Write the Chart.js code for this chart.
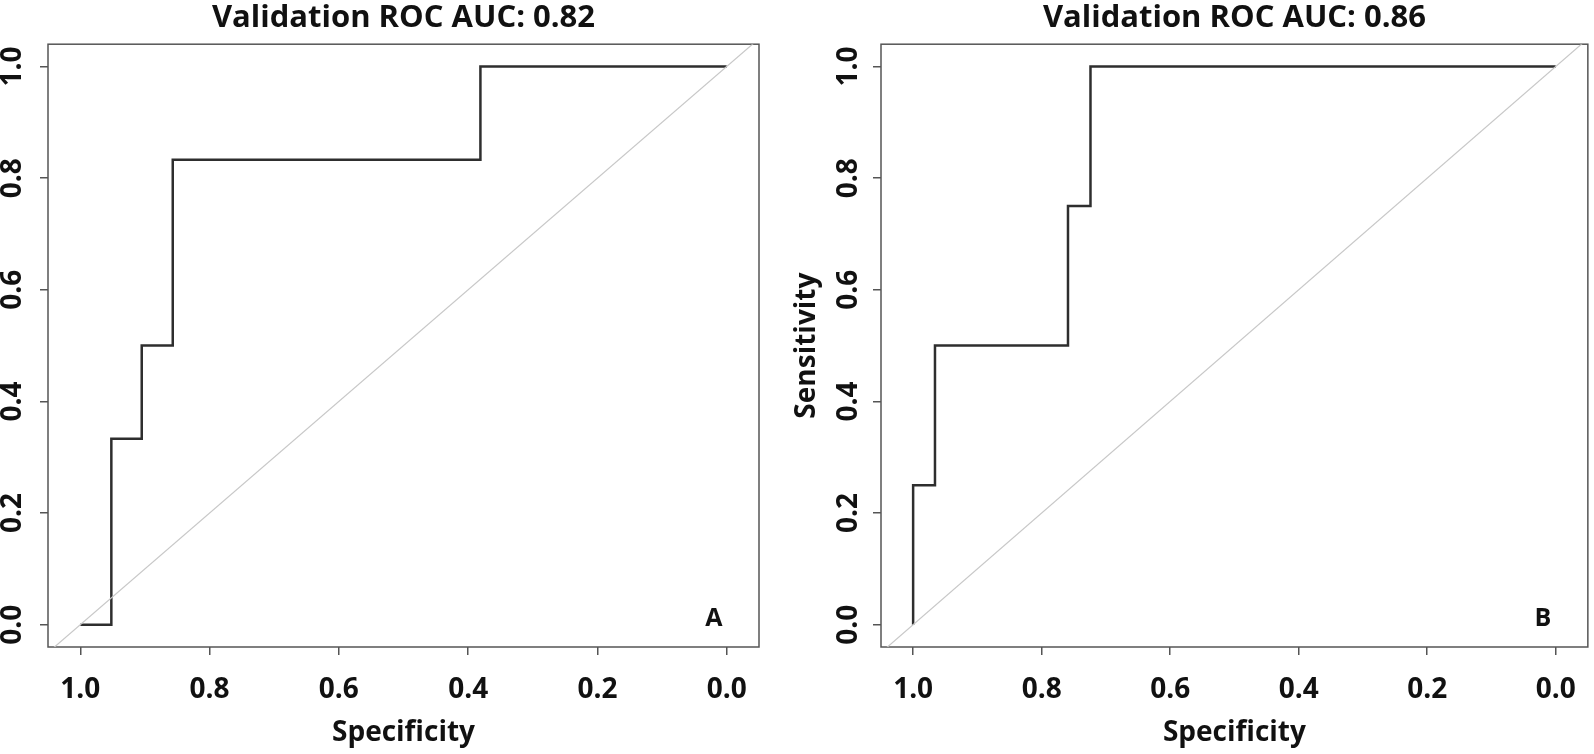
<!DOCTYPE html>
<html>
<head>
<meta charset="utf-8">
<title>Validation ROC curves</title>
<script src="https://cdn.jsdelivr.net/npm/chart.js@4.4.1/dist/chart.umd.min.js"></script>
<style>
  html, body { margin: 0; padding: 0; background: #fff; }
  #page { position: relative; width: 1594px; height: 754px; }
  .panel { position: absolute; top: 0; height: 754px; }
  #panelA { left: 0; width: 790px; }
  #panelB { left: 780px; width: 814px; }
</style>
</head>
<body>
<div id="page">
  <div class="panel" id="panelA"><canvas id="rocA"></canvas></div>
  <div class="panel" id="panelB"><canvas id="rocB"></canvas></div>
</div>
<script>
// ---------- Data ----------
const specTicks = [1.0, 0.8, 0.6, 0.4, 0.2, 0.0];
const sensTicks = [0.0, 0.2, 0.4, 0.6, 0.8, 1.0];

// Panel A: corners of the stepped ROC curve (specificity, sensitivity)
const specA = [1.0, 0.952, 0.952, 0.905, 0.905, 0.857, 0.857, 0.381, 0.381, 0.0];
const sensA = [0.0, 0.0, 0.333, 0.333, 0.5, 0.5, 0.833, 0.833, 1.0, 1.0];
const aucA = 0.82;

// Panel B
const specB = [1.0, 1.0, 0.966, 0.966, 0.759, 0.759, 0.724, 0.724, 0.0];
const sensB = [0.0, 0.25, 0.25, 0.5, 0.5, 0.75, 0.75, 1.0, 1.0];
const aucB = 0.86;

// chance line (sensitivity = 1 - specificity), runs off the frame like abline()
const diagSpec = [1.1, -0.1];
const diagSens = [-0.1, 1.1];

const FONT = '"Open Sans", "DejaVu Sans", sans-serif';
const INK = '#111';
const AXIS = '#555';

// ---------- Frame + panel letter ----------
const frameAndTag = {
  id: 'frameAndTag',
  beforeDatasetsDraw(chart) {
    const { ctx, chartArea: a } = chart;
    ctx.save();
    ctx.strokeStyle = AXIS;
    ctx.lineWidth = 1.5;
    ctx.strokeRect(a.left, a.top, a.right - a.left, a.bottom - a.top);
    ctx.restore();
  },
  afterDatasetsDraw(chart, args, opts) {
    if (!opts.tag) return;
    const { ctx, scales } = chart;
    ctx.save();
    ctx.fillStyle = INK;
    ctx.font = 'bold 25px ' + FONT;
    ctx.textAlign = 'center';
    ctx.textBaseline = 'middle';
    ctx.fillText(opts.tag, scales.x.getPixelForValue(opts.at[0]), scales.y.getPixelForValue(opts.at[1]));
    ctx.restore();
  }
};

function points(xs, ys) {
  return xs.map((x, i) => ({ x, y: ys[i] }));
}

function rocChart(id, spec, sens, opts) {
  return new Chart(document.getElementById(id), {
    type: 'line',
    data: {
      datasets: [
        { data: points(diagSpec, diagSens), borderColor: '#c8c8c8', borderWidth: 1.2, pointRadius: 0 },
        { data: points(spec, sens), borderColor: '#2e2e2e', borderWidth: 2.5, pointRadius: 0, borderJoinStyle: 'miter' }
      ]
    },
    options: {
      responsive: true,
      maintainAspectRatio: false,
      animation: false,
      layout: { padding: { left: 0, right: opts.padRight, top: 0, bottom: 0 } },
      plugins: {
        legend: { display: false },
        tooltip: { enabled: false },
        title: {
          display: true,
          text: 'Validation ROC AUC: ' + opts.auc.toFixed(2),
          fullSize: false,
          color: INK,
          font: { family: FONT, size: 31, weight: 'bold' },
          padding: { top: 0, bottom: 7 }
        },
        frameAndTag: { tag: opts.tag, at: [0.02, 0.01] }
      },
      scales: {
        x: {
          type: 'linear',
          reverse: true,
          min: -0.05,
          max: 1.05,
          afterBuildTicks: s => { s.ticks = specTicks.map(v => ({ value: v })); },
          afterFit: s => { s.height = 107; },
          ticks: {
            color: INK,
            padding: 18,
            maxRotation: 0,
            font: { family: FONT, size: 28, weight: 'bold' },
            callback: v => v.toFixed(1)
          },
          grid: { drawOnChartArea: false, tickLength: 8, color: AXIS, lineWidth: 1.5 },
          border: { display: false },
          title: {
            display: true,
            text: 'Specificity',
            color: INK,
            font: { family: FONT, size: 28, weight: 'bold' },
            padding: { top: 0, bottom: 4 }
          }
        },
        y: {
          type: 'linear',
          min: -0.04,
          max: 1.04,
          afterBuildTicks: s => { s.ticks = sensTicks.map(v => ({ value: v })); },
          afterFit: s => { s.width = opts.yWidth; },
          ticks: {
            color: INK,
            padding: opts.yPad,
            minRotation: 90,
            maxRotation: 90,
            crossAlign: 'center',
            font: { family: FONT, size: 28, weight: 'bold' },
            callback: v => v.toFixed(1)
          },
          grid: { drawOnChartArea: false, tickLength: 8, color: AXIS, lineWidth: 1.5 },
          border: { display: false },
          title: {
            display: opts.yTitle,
            text: 'Sensitivity',
            color: INK,
            font: { family: FONT, size: 28, weight: 'bold' },
            padding: { top: 10, bottom: 0 }
          }
        }
      }
    },
    plugins: [frameAndTag]
  });
}

rocChart('rocA', specA, sensA, { auc: aucA, tag: 'A', padRight: 31, yWidth: 48, yPad: 7, yTitle: false });
rocChart('rocB', specB, sensB, { auc: aucB, tag: 'B', padRight: 2, yWidth: 101, yPad: 4, yTitle: true });
</script>
</body>
</html>
